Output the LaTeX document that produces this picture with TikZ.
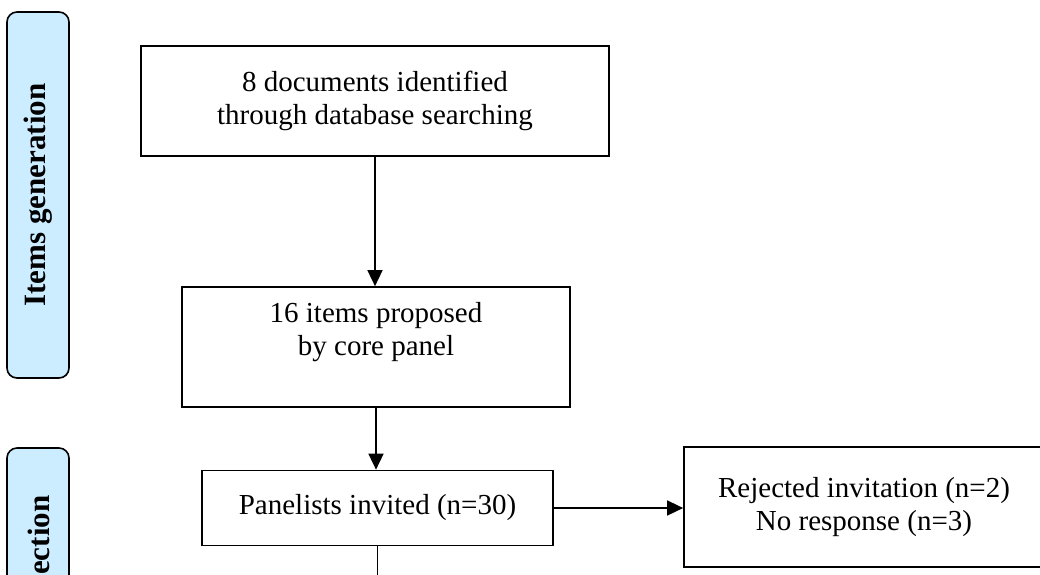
\documentclass[tikz,border=0pt]{standalone}
\usepackage{fontspec}
\setmainfont{Liberation Serif}
\usetikzlibrary{arrows.meta}
\definecolor{bannerblue}{RGB}{204,236,255}
\begin{document}
\begin{tikzpicture}[x=1pt,y=-1pt,
  box/.style={draw=black, line width=1.7pt, inner sep=0pt, align=center,
    font=\fontsize{29}{33}\selectfont},
  banner/.style={draw=black, fill=bannerblue, line width=1.6pt, rounded corners=10pt,
    inner sep=0pt, rotate=90, font=\fontsize{31}{36}\selectfont\bfseries},
  bannertext/.style={inner sep=0pt, rotate=90, font=\fontsize{31}{36}\selectfont\bfseries},
  conn/.style={line width=1.6pt, -{Triangle[length=16pt,width=15pt]}},
  plainline/.style={line width=1.6pt}]
\useasboundingbox (0,0) rectangle (1040,574);
\clip (0,0) rectangle (1040,574);
% side banners
\node[banner, minimum width=366pt, minimum height=62pt] (ban1) at (38,195) {Items generation};
\node[banner, minimum width=260pt, minimum height=62pt] (ban2) at (38,578) {};
\node[bannertext, anchor=west] (ban2t) at (39,575) {ection};
% boxes
\node[box, minimum width=468pt, minimum height=110pt] (b1) at (375,101)
  {8 documents identified\\through database searching};
\node[box, minimum width=388pt, minimum height=120pt] (b2) at (376,347)
  {16 items proposed\\by core panel\\[4pt]};
\node[box, minimum width=351pt, minimum height=75pt] (b3) at (377.5,508)
  {Panelists invited (n=30)};
\node[box, minimum width=360pt, minimum height=120pt] (b4) at (864,507)
  {Rejected invitation (n=2)\\No response (n=3)};
\coordinate (c1) at (377.5,600);
% connectors
\draw[conn] (b1.south) -- (b1.south |- b2.north);
\draw[conn] (b2.south) -- (b2.south |- b3.north);
\draw[conn] (b3.east) -- (b3.east -| b4.west);
\draw[plainline] (b3.south) -- (c1);
\end{tikzpicture}
\end{document}
